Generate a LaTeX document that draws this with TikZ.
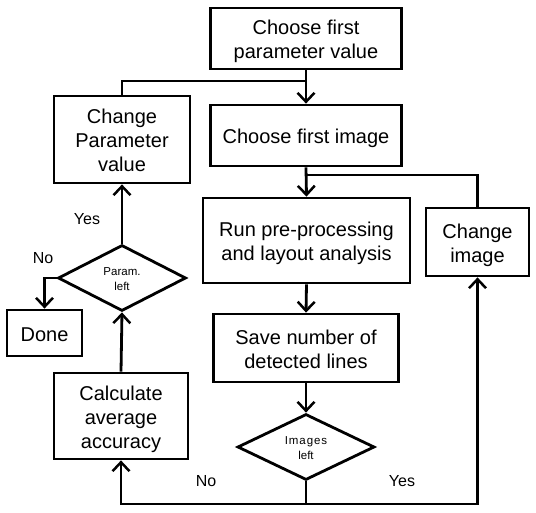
\documentclass[tikz,border=0pt]{standalone}
\usepackage{fontspec}
\setmainfont{Liberation Sans}
\usetikzlibrary{arrows.meta,shapes.geometric}
\newcommand\boxtxt[2]{\raisebox{-#1}[\height][\depth]{\begin{tabular}{@{}c@{}}#2\end{tabular}}}
\begin{document}
\begin{tikzpicture}[x=1pt,y=-1pt,
  line width=2.8pt,
  box/.style={draw,rectangle,inner sep=0pt,font=\fontsize{20}{24}\selectfont},
  dia/.style={draw,diamond,aspect=2,inner sep=0pt,font=\fontsize{11.5}{15}\selectfont},
  lbl/.style={font=\fontsize{16}{19}\selectfont,inner sep=0pt},
  arr/.style={-{Straight Barb[length=9pt,width=17pt,line width=2.5pt]}}]
\useasboundingbox (0,0) rectangle (536,513);
\node[box,minimum width=191pt,minimum height=61pt] (top) at (306,38.5) {\boxtxt{3.5pt}{Choose first\\parameter value}};
\node[box,minimum width=191pt,minimum height=61pt] (img) at (306,135.5) {\boxtxt{3.5pt}{Choose first image}};
\node[box,minimum width=136pt,minimum height=87pt] (cpv) at (122,139.5) {\boxtxt{3.5pt}{Change\\Parameter\\value}};
\node[box,minimum width=207pt,minimum height=85pt] (run) at (306.5,240.5) {\boxtxt{3.5pt}{Run pre-processing\\and layout analysis}};
\node[box,minimum width=103pt,minimum height=68pt] (chimg) at (477.5,242) {\boxtxt{3.5pt}{Change\\image}};
\node[box,minimum width=185pt,minimum height=68pt] (save) at (306,348) {\boxtxt{3.5pt}{Save number of\\detected lines}};
\node[dia,minimum width=137pt,minimum height=66pt] (iml) at (306,447) {\boxtxt{2pt}{\addfontfeatures{LetterSpace=8}Images\\left}};
\node[box,minimum width=134pt,minimum height=86pt] (calc) at (121,416) {\boxtxt{3.5pt}{Calculate\\average\\accuracy}};
\node[dia,minimum width=128pt,minimum height=66pt] (pl) at (122,278) {\boxtxt{2pt}{Param.\\left}};
\node[box,minimum width=75pt,minimum height=46pt] (done) at (44.5,333) {\boxtxt{3.5pt}{Done}};
\coordinate (j1) at (306,81);
\coordinate (j2) at (306,175);
\coordinate (b) at (306,504);
\draw[arr] (top.south) -- (img.north);
\draw (cpv.north) |- (j1);
\draw[arr] (img.south) -- (run.north);
\draw (chimg.north) |- (j2);
\draw[arr] (run.south) -- (save.north);
\draw[arr] (save.south) -- (iml.north);
\draw (iml.south) -- (b);
\draw[arr] (b) -| (calc.south);
\draw[arr] (b) -| (chimg.south);
\draw[arr] (calc.north) -- (pl.south);
\draw[arr] (pl.north) -- (cpv.south);
\draw[arr] (pl.west) -| (done.north);
\node[lbl] (y1) at (87,219) {Yes};
\node[lbl] (n1) at (43,258) {No};
\node[lbl] (n2) at (206,481) {No};
\node[lbl] (y2) at (402,481) {Yes};
\end{tikzpicture}
\end{document}
